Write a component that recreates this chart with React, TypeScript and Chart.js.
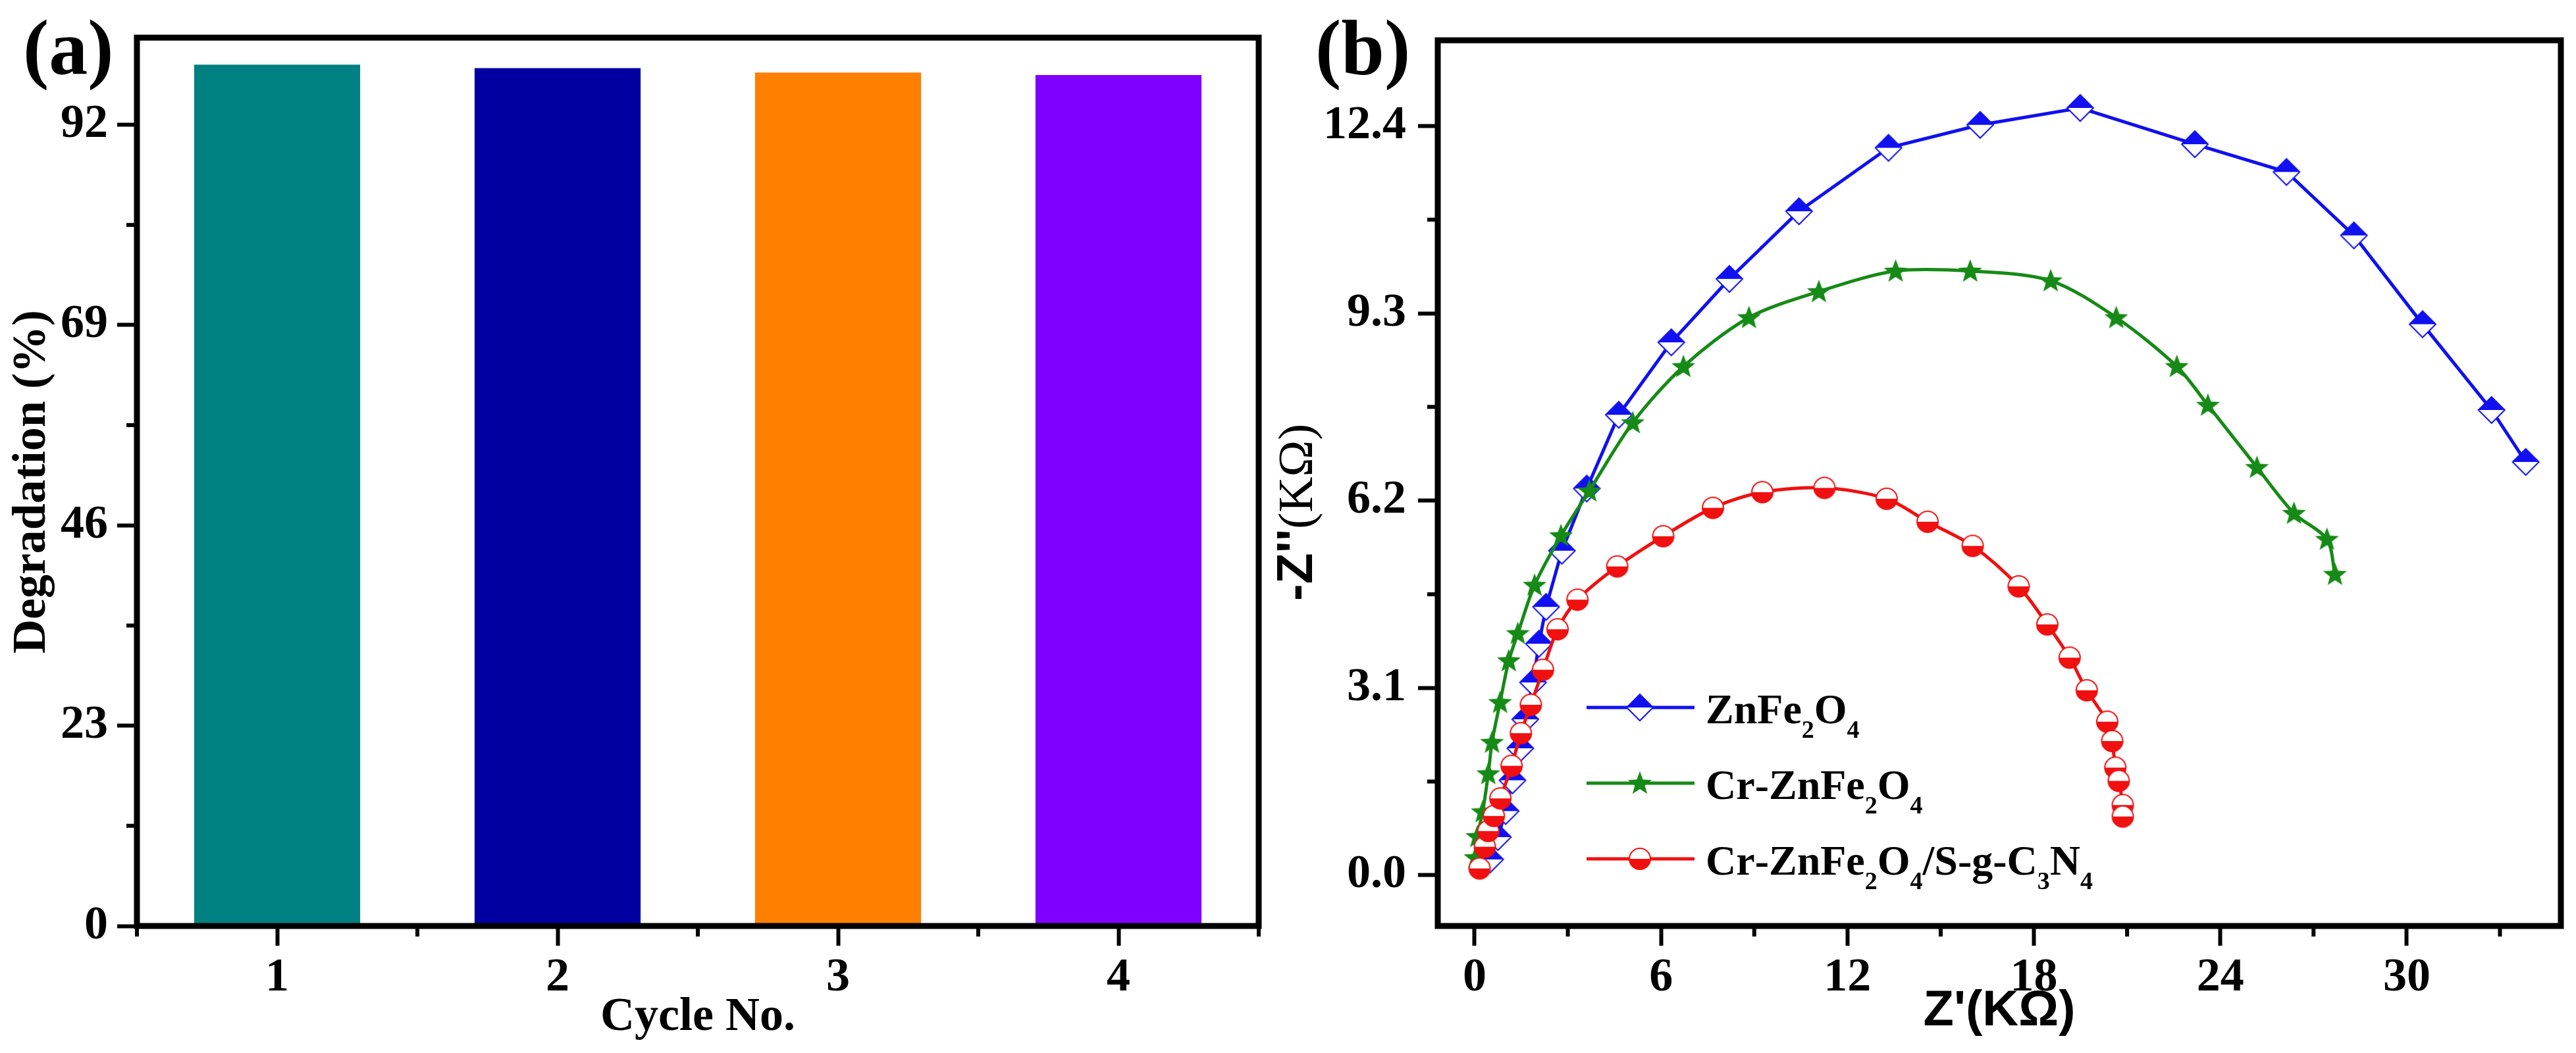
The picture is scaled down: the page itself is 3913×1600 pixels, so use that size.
import { useEffect, useRef } from "react"
import { Chart, registerables } from "chart.js"

Chart.register(...registerables)

// panel (a): photocatalytic cycles
const cycles = ["1", "2", "3", "4"]
const degradation = [98.9, 98.5, 98.0, 97.7]
const barColors = ["#008080", "#0000A0", "#FF8000", "#8000FF"]
const degradationTicks = [0, 23, 46, 69, 92]
const degradationMinor = [11.5, 34.5, 57.5, 80.5]

// panel (b): Nyquist plots, Z' and -Z'' in kOhm
const znX = [0.5, 0.75, 1.0, 1.22, 1.47, 1.63, 1.88, 2.07, 2.3, 2.81, 3.61, 4.64, 6.33, 8.2, 10.44, 13.32, 16.27, 19.49, 23.18, 26.13, 28.3, 30.51, 32.73, 33.83]
const znY = [0.26, 0.63, 1.06, 1.57, 2.1, 2.58, 3.19, 3.83, 4.44, 5.37, 6.4, 7.62, 8.82, 9.87, 10.99, 12.04, 12.42, 12.7, 12.1, 11.64, 10.59, 9.12, 7.7, 6.84]

const crX = [0.03, 0.09, 0.26, 0.44, 0.56, 0.82, 1.1, 1.39, 1.93, 2.78, 3.69, 5.09, 6.72, 8.83, 11.08, 13.55, 15.95, 18.54, 20.65, 22.6, 23.6, 25.18, 26.37, 27.43, 27.69]
const crY = [0.29, 0.64, 1.05, 1.68, 2.2, 2.86, 3.55, 4.0, 4.8, 5.62, 6.36, 7.49, 8.42, 9.23, 9.66, 10.0, 10.0, 9.84, 9.23, 8.42, 7.78, 6.75, 5.99, 5.56, 4.98]

const compX = [0.16, 0.33, 0.44, 0.62, 0.83, 1.19, 1.49, 1.81, 2.2, 2.67, 3.31, 4.59, 6.07, 7.67, 9.26, 11.26, 13.26, 14.58, 16.03, 17.51, 18.43, 19.15, 19.7, 20.36, 20.52, 20.62, 20.73, 20.86, 20.86]
const compY = [0.11, 0.47, 0.73, 0.98, 1.27, 1.81, 2.35, 2.82, 3.4, 4.07, 4.56, 5.11, 5.61, 6.08, 6.34, 6.41, 6.23, 5.85, 5.45, 4.78, 4.15, 3.6, 3.06, 2.54, 2.22, 1.78, 1.56, 1.16, 0.97]

const seriesNames = ["ZnFe_2O_4", "Cr-ZnFe_2O_4", "Cr-ZnFe_2O_4/S-g-C_3N_4"]
const seriesColors = ["#1010F0", "#168A16", "#F01010"]
const zRealTicks = [0, 6, 12, 18, 24, 30]
const zRealMinor = [3, 9, 15, 21, 27, 33]
const zImagTicks = [0, 3.1, 6.2, 9.3, 12.4]
const zImagMinor = [1.55, 4.65, 7.75, 10.85]

const serif = '"Liberation Serif", "Times New Roman", serif'
const sans = '"Liberation Sans", Arial, sans-serif'
const tickFont = { family: serif, size: 72, weight: "bold" as const }

function pts(xs: number[], ys: number[]) {
  return xs.map((x, i) => ({ x, y: ys[i] }))
}

function makeDiamond(color: string) {
  const c = document.createElement("canvas")
  c.width = 46
  c.height = 46
  const g = c.getContext("2d")!
  g.fillStyle = "#fff"
  g.strokeStyle = color
  g.lineWidth = 2
  g.beginPath()
  g.moveTo(23, 3)
  g.lineTo(43, 23)
  g.lineTo(23, 43)
  g.lineTo(3, 23)
  g.closePath()
  g.fill()
  g.stroke()
  g.fillStyle = color
  g.beginPath()
  g.moveTo(23, 3)
  g.lineTo(43, 23)
  g.lineTo(3, 23)
  g.closePath()
  g.fill()
  return c
}

function makeStar(color: string) {
  const c = document.createElement("canvas")
  c.width = 42
  c.height = 42
  const g = c.getContext("2d")!
  g.fillStyle = color
  g.beginPath()
  for (let i = 0; i < 10; i++) {
    const r = i % 2 === 0 ? 19 : 8
    const a = -Math.PI / 2 + (i * Math.PI) / 5
    const px = 21 + r * Math.cos(a)
    const py = 22 + r * Math.sin(a)
    if (i === 0) g.moveTo(px, py)
    else g.lineTo(px, py)
  }
  g.closePath()
  g.fill()
  return c
}

function makeHalfCircle(color: string) {
  const c = document.createElement("canvas")
  c.width = 38
  c.height = 38
  const g = c.getContext("2d")!
  g.fillStyle = "#fff"
  g.strokeStyle = color
  g.lineWidth = 2
  g.beginPath()
  g.arc(19, 19, 16, 0, Math.PI * 2)
  g.fill()
  g.stroke()
  g.fillStyle = color
  g.beginPath()
  g.arc(19, 19, 16, 0, Math.PI)
  g.closePath()
  g.fill()
  return c
}

// text with "_d" meaning subscript digit
function drawRich(ctx: CanvasRenderingContext2D, text: string, x: number, y: number) {
  let cx = x
  for (let i = 0; i < text.length; i++) {
    let ch = text[i]
    let sub = false
    if (ch === "_" && i + 1 < text.length) {
      ch = text[++i]
      sub = true
    }
    ctx.font = sub ? `bold 38px ${serif}` : `bold 64px ${serif}`
    ctx.fillText(ch, cx, sub ? y + 22 : y)
    cx += ctx.measureText(ch).width
  }
}

const framePlugin = {
  id: "frame",
  afterDatasetsDraw(chart: Chart) {
    const { ctx, chartArea: a } = chart
    ctx.save()
    ctx.strokeStyle = "#000"
    ctx.lineWidth = 9
    ctx.strokeRect(a.left, a.top, a.right - a.left, a.bottom - a.top)
    ctx.restore()
  },
}

function minorTicks(xMinor: number[], yMinor: number[]) {
  return {
    id: "minorTicks",
    afterDraw(chart: Chart) {
      const { ctx, chartArea: a } = chart
      const xs = chart.scales.x
      const ys = chart.scales.y
      ctx.save()
      ctx.strokeStyle = "#000"
      ctx.lineWidth = 6
      ctx.beginPath()
      xMinor.forEach((v) => {
        const px = xs.getPixelForValue(v)
        ctx.moveTo(px, a.bottom)
        ctx.lineTo(px, a.bottom + 16)
      })
      yMinor.forEach((v) => {
        const py = ys.getPixelForValue(v)
        ctx.moveTo(a.left, py)
        ctx.lineTo(a.left - 16, py)
      })
      ctx.stroke()
      ctx.restore()
    },
  }
}

function panelLabel(text: string, x: number) {
  return {
    id: "panelLabel",
    afterDraw(chart: Chart) {
      const ctx = chart.ctx
      ctx.save()
      ctx.fillStyle = "#000"
      ctx.font = `bold 118px ${serif}`
      ctx.textBaseline = "alphabetic"
      ctx.textAlign = "left"
      ctx.fillText(text, x, 112)
      ctx.restore()
    },
  }
}

const yLabelPlugin = {
  id: "yLabel",
  afterDraw(chart: Chart) {
    const ctx = chart.ctx
    ctx.save()
    ctx.fillStyle = "#000"
    ctx.translate(53, 913)
    ctx.rotate(-Math.PI / 2)
    ctx.textBaseline = "alphabetic"
    ctx.textAlign = "left"
    ctx.font = `bold 77px ${sans}`
    ctx.fillText("-Z''", 0, 0)
    const w = ctx.measureText("-Z''").width
    ctx.font = `75px ${serif}`
    ctx.fillText("(K\u03A9)", w, 0)
    ctx.restore()
  },
}

function legendPlugin(markers: HTMLCanvasElement[]) {
  return {
    id: "richLegend",
    afterDraw(chart: Chart) {
      const ctx = chart.ctx
      const rows = [1075, 1190, 1305]
      ctx.save()
      seriesNames.forEach((name, i) => {
        const y = rows[i]
        ctx.strokeStyle = seriesColors[i]
        ctx.lineWidth = 5
        ctx.beginPath()
        ctx.moveTo(470, y)
        ctx.lineTo(634, y)
        ctx.stroke()
        const m = markers[i]
        ctx.drawImage(m, 551 - m.width / 2, y - m.height / 2)
        ctx.fillStyle = "#000"
        ctx.textBaseline = "alphabetic"
        ctx.textAlign = "left"
        drawRich(ctx, name, 651, y + 24)
      })
      ctx.restore()
    },
  }
}

function axisGrid() {
  return {
    display: true,
    drawOnChartArea: false,
    drawTicks: true,
    tickLength: 30,
    tickWidth: 6,
    tickColor: "#000",
  }
}

export default function App() {
  const barRef = useRef<HTMLCanvasElement>(null)
  const eisRef = useRef<HTMLCanvasElement>(null)

  useEffect(() => {
    if (!barRef.current || !eisRef.current) return

    const barChart = new Chart(barRef.current, {
      type: "bar",
      data: {
        labels: cycles,
        datasets: [
          {
            label: "Degradation",
            data: degradation,
            backgroundColor: barColors,
            borderWidth: 0,
            barPercentage: 0.592,
            categoryPercentage: 1,
          },
        ],
      },
      options: {
        animation: false,
        responsive: false,
        devicePixelRatio: 1,
        layout: { padding: { top: 32, right: 28, bottom: 0, left: 0 } },
        plugins: { legend: { display: false }, tooltip: { enabled: false } },
        scales: {
          x: {
            type: "category",
            offset: true,
            grid: { ...axisGrid(), offset: false },
            border: { display: false },
            ticks: { font: tickFont, color: "#000", padding: 6 },
            title: {
              display: true,
              text: "Cycle No.",
              color: "#000",
              font: { family: serif, size: 72, weight: "bold" },
              padding: { top: 0, bottom: 10 },
            },
            afterFit: (s: any) => {
              s.height = 193
            },
          },
          y: {
            min: 0,
            max: 102,
            afterBuildTicks: (s: any) => {
              s.ticks = degradationTicks.map((v) => ({ value: v }))
            },
            grid: axisGrid(),
            border: { display: false },
            ticks: { font: tickFont, color: "#000", padding: 14 },
            title: {
              display: true,
              text: "Degradation (%)",
              color: "#000",
              font: { family: serif, size: 72, weight: "bold" },
              padding: { top: 6, bottom: 0 },
            },
            afterFit: (s: any) => {
              s.width = 208
            },
          },
        },
      },
      plugins: [framePlugin, minorTicks([-0.5, 0.5, 1.5, 2.5, 3.5], degradationMinor), panelLabel("(a)", 35)],
    })

    const markers = [makeDiamond(seriesColors[0]), makeStar(seriesColors[1]), makeHalfCircle(seriesColors[2])]
    const seriesX = [znX, crX, compX]
    const seriesY = [znY, crY, compY]

    const eisChart = new Chart(eisRef.current, {
      type: "line",
      data: {
        datasets: seriesNames.map((name, i) => ({
          label: name.replace(/_/g, ""),
          data: pts(seriesX[i], seriesY[i]),
          borderColor: seriesColors[i],
          backgroundColor: seriesColors[i],
          borderWidth: 5,
          tension: i === 0 ? 0 : 0.3,
          pointStyle: markers[i],
          order: 2 - i,
        })),
      },
      options: {
        animation: false,
        responsive: false,
        devicePixelRatio: 1,
        layout: { padding: { top: 32, right: 23, bottom: 0, left: 0 } },
        plugins: { legend: { display: false }, tooltip: { enabled: false } },
        scales: {
          x: {
            type: "linear",
            min: -1.186,
            max: 34.96,
            afterBuildTicks: (s: any) => {
              s.ticks = zRealTicks.map((v) => ({ value: v }))
            },
            grid: axisGrid(),
            border: { display: false },
            ticks: { font: tickFont, color: "#000", padding: 6, callback: (v: any) => String(v) },
            title: {
              display: true,
              text: "Z'(K\u03A9)",
              color: "#000",
              font: { family: sans, size: 76, weight: "bold" },
              padding: { top: 0, bottom: 17 },
            },
            afterFit: (s: any) => {
              s.height = 193
            },
          },
          y: {
            type: "linear",
            min: -0.842,
            max: 13.82,
            afterBuildTicks: (s: any) => {
              s.ticks = zImagTicks.map((v) => ({ value: v }))
            },
            grid: axisGrid(),
            border: { display: false },
            ticks: { font: tickFont, color: "#000", padding: 18, callback: (v: any) => Number(v).toFixed(1) },
            afterFit: (s: any) => {
              s.width = 244
            },
          },
        },
      },
      plugins: [framePlugin, minorTicks(zRealMinor, zImagMinor), panelLabel("(b)", 58), yLabelPlugin, legendPlugin(markers)],
    })

    return () => {
      barChart.destroy()
      eisChart.destroy()
    }
  }, [])

  return (
    <div style={{ position: "absolute", left: 0, top: 0, width: 3913, height: 1600, background: "#fff" }}>
      <canvas ref={barRef} width={1940} height={1600} style={{ position: "absolute", left: 0, top: 0 }} />
      <canvas ref={eisRef} width={1973} height={1600} style={{ position: "absolute", left: 1940, top: 0 }} />
    </div>
  )
}
